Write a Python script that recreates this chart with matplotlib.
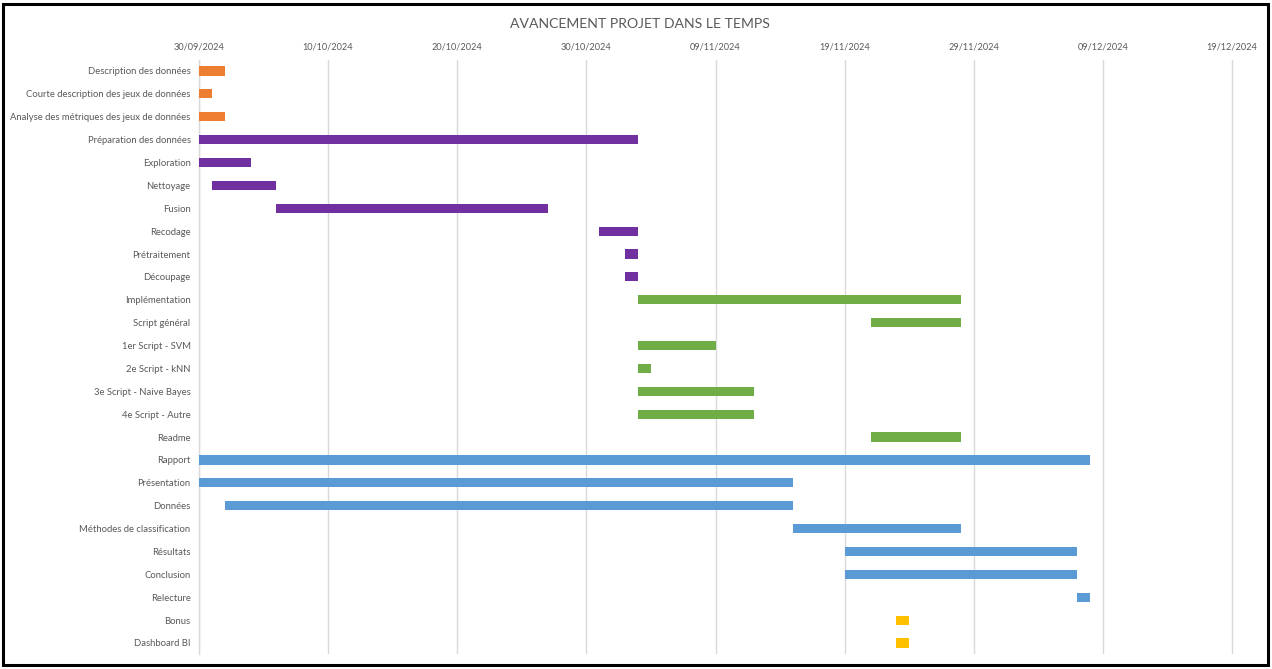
import matplotlib
matplotlib.use("Agg")
import matplotlib.pyplot as plt
import matplotlib.dates as mdates
from matplotlib.patches import Rectangle
from datetime import datetime

# Tasks, top to bottom, with start and end dates and group
tasks = [
    "Description des données",
    "Courte description des jeux de données",
    "Analyse des métriques des jeux de données",
    "Préparation des données",
    "Exploration",
    "Nettoyage",
    "Fusion",
    "Recodage",
    "Prétraitement",
    "Découpage",
    "Implémentation",
    "Script général",
    "1er Script - SVM",
    "2e Script - kNN",
    "3e Script - Naive Bayes",
    "4e Script - Autre",
    "Readme",
    "Rapport",
    "Présentation",
    "Données",
    "Méthodes de classification",
    "Résultats",
    "Conclusion",
    "Relecture",
    "Bonus",
    "Dashboard BI",
]
starts = [
    "30/09/2024", "30/09/2024", "30/09/2024",
    "30/09/2024", "30/09/2024", "01/10/2024", "06/10/2024",
    "31/10/2024", "02/11/2024", "02/11/2024",
    "03/11/2024", "21/11/2024", "03/11/2024", "03/11/2024",
    "03/11/2024", "03/11/2024", "21/11/2024",
    "30/09/2024", "30/09/2024", "02/10/2024", "15/11/2024",
    "19/11/2024", "19/11/2024", "07/12/2024",
    "23/11/2024", "23/11/2024",
]
ends = [
    "02/10/2024", "01/10/2024", "02/10/2024",
    "03/11/2024", "04/10/2024", "06/10/2024", "27/10/2024",
    "03/11/2024", "03/11/2024", "03/11/2024",
    "28/11/2024", "28/11/2024", "09/11/2024", "04/11/2024",
    "12/11/2024", "12/11/2024", "28/11/2024",
    "08/12/2024", "15/11/2024", "15/11/2024", "28/11/2024",
    "07/12/2024", "07/12/2024", "08/12/2024",
    "24/11/2024", "24/11/2024",
]
groups = (["desc"] * 3 + ["prep"] * 7 + ["impl"] * 7
          + ["rapport"] * 7 + ["bonus"] * 2)
group_colors = {
    "desc": "#ED7D31",
    "prep": "#7030A0",
    "impl": "#70AD47",
    "rapport": "#5B9BD5",
    "bonus": "#FFC000",
}
tick_dates = ["30/09/2024", "10/10/2024", "20/10/2024", "30/10/2024",
              "09/11/2024", "19/11/2024", "29/11/2024", "09/12/2024",
              "19/12/2024"]


def to_num(s):
    return mdates.date2num(datetime.strptime(s, "%d/%m/%Y"))


def main():
    fig = plt.figure(figsize=(12.72, 6.69), dpi=100)
    ax = fig.add_axes([0.1564, 0.0218, 0.8326, 0.8892])

    left = [to_num(s) for s in starts]
    width = [to_num(e) - to_num(s) for s, e in zip(starts, ends)]
    colors = [group_colors[g] for g in groups]
    ax.barh(range(len(tasks)), width, left=left, height=0.4, color=colors,
            zorder=3)

    ax.set_ylim(len(tasks) - 0.5, -0.5)
    x0 = to_num("30/09/2024")
    ax.set_xlim(x0, x0 + 82)

    ax.set_yticks(range(len(tasks)))
    ax.set_yticklabels(tasks)
    ax.set_xticks([to_num(d) for d in tick_dates])
    ax.set_xticklabels(tick_dates)
    ax.xaxis.tick_top()
    ax.tick_params(axis="x", length=0, pad=6, labelsize=6.6, colors="#595959")
    ax.tick_params(axis="y", length=0, pad=6, labelsize=6.85, colors="#595959")
    for lab in ax.get_xticklabels() + ax.get_yticklabels():
        lab.set_family("Lato")

    ax.grid(axis="x", color="#D9D9D9", linewidth=1, zorder=0)
    for side in ["top", "right", "bottom"]:
        ax.spines[side].set_visible(False)
    ax.spines["left"].set_color("#D9D9D9")
    ax.spines["left"].set_linewidth(1)

    fig.text(0.503, 0.964, "AVANCEMENT PROJET DANS LE TEMPS", ha="center",
             va="center", fontsize=10.1, color="#595959", family="Lato")

    # black frame around the chart
    fig.patches.append(Rectangle((3 / 1272, 4 / 669), 1265 / 1272, 661 / 669,
                                 transform=fig.transFigure, fill=False,
                                 edgecolor="black", linewidth=2.2))

    fig.savefig("out.png", dpi=100)


if __name__ == "__main__":
    main()
